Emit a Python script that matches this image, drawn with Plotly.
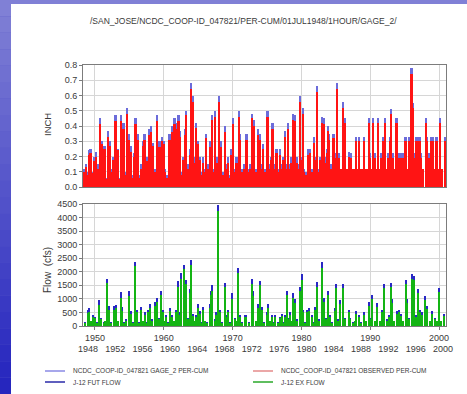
import plotly.graph_objects as go

# ---------------- DATA ----------------
precip_year = [
    1948.40, 1948.74, 1948.95, 1949.13, 1949.37, 1949.60, 1949.95, 1950.19, 1950.44, 1950.62,
    1950.78, 1951.07, 1951.25, 1951.41, 1951.65, 1951.89, 1952.14, 1952.40, 1952.62, 1952.85,
    1953.01, 1953.20, 1953.35, 1953.60, 1953.83, 1954.00, 1954.17, 1954.45, 1954.71, 1954.95,
    1955.19, 1955.45, 1955.70, 1955.92, 1956.10, 1956.26, 1956.50, 1956.75, 1956.99, 1957.23,
    1957.40, 1957.57, 1957.80, 1957.96, 1958.20, 1958.45, 1958.75, 1959.03, 1959.25, 1959.42,
    1959.62, 1959.81, 1960.00, 1960.25, 1960.50, 1960.87, 1961.05, 1961.26, 1961.60, 1961.84,
    1962.00, 1962.18, 1962.33, 1962.60, 1962.85, 1963.06, 1963.30, 1963.55, 1963.80, 1964.03,
    1964.27, 1964.45, 1964.66, 1964.85, 1965.00, 1965.24, 1965.50, 1965.73, 1965.95, 1966.21,
    1966.45, 1966.70, 1966.90, 1967.09, 1967.25, 1967.43, 1967.70, 1967.85, 1968.06, 1968.25,
    1968.40, 1968.65, 1968.88, 1969.10, 1969.37, 1969.60, 1969.85, 1970.10, 1970.35, 1970.60,
    1970.97, 1971.15, 1971.40, 1971.70, 1972.04, 1972.30, 1972.60, 1972.87, 1973.11, 1973.40,
    1973.75, 1973.99, 1974.20, 1974.48, 1974.75, 1975.11, 1975.35, 1975.60, 1975.84, 1976.10,
    1976.42, 1976.65, 1976.91, 1977.20, 1977.40, 1977.64, 1977.90, 1978.13, 1978.40, 1978.60,
    1978.86, 1979.10, 1979.35, 1979.60, 1979.83, 1980.05, 1980.22, 1980.45, 1980.70, 1981.05,
    1981.29, 1981.55, 1981.87, 1982.05, 1982.26, 1982.50, 1982.75, 1982.99, 1983.24, 1983.50,
    1983.70, 1983.87, 1984.06, 1984.30, 1984.50, 1984.70, 1984.95, 1985.18, 1985.45, 1985.75,
    1986.06, 1986.25, 1986.40, 1986.65, 1986.89, 1987.10, 1987.23, 1987.50, 1987.75, 1988.00,
    1988.20, 1988.35, 1988.65, 1988.85, 1989.08, 1989.35, 1989.60, 1989.81, 1990.05, 1990.25,
    1990.44, 1990.70, 1990.95, 1991.17, 1991.40, 1991.65, 1991.90, 1992.14, 1992.40, 1992.65,
    1992.85, 1993.07, 1993.30, 1993.55, 1993.84, 1994.10, 1994.43, 1994.70, 1994.95, 1995.16,
    1995.40, 1995.70, 1996.03, 1996.25, 1996.50, 1996.75, 1997.00, 1997.20, 1997.45, 1997.75,
    1998.08, 1998.30, 1998.55, 1998.80, 1999.15, 1999.40, 1999.65, 1999.90, 2000.17, 2000.45,
    2000.85,
]
gage2_inch = [
    .12, .15, .10, .24, .25, .10, .20, .23, .15, .08,
    .45, .30, .12, .27, .06, .37, .30, .12, .20, .10,
    .47, .12, .25, .06, .47, .15, .42, .10, .52, .35,
    .27, .08, .22, .45, .15, .35, .08, .15, .30, .35,
    .10, .20, .12, .38, .40, .29, .12, .47, .12, .30,
    .10, .33, .30, .12, .08, .35, .15, .40, .45, .42,
    .18, .47, .37, .10, .20, .38, .50, .15, .25, .68,
    .60, .20, .42, .15, .30, .20, .10, .20, .12, .35,
    .15, .30, .15, .47, .12, .50, .15, .20, .60, .15,
    .30, .10, .40, .15, .20, .08, .25, .45, .12, .20,
    .50, .35, .12, .15, .35, .12, .15, .48, .44, .12,
    .38, .35, .15, .28, .12, .50, .15, .20, .42, .15,
    .25, .12, .25, .15, .20, .37, .15, .42, .15, .20,
    .48, .47, .20, .15, .60, .20, .52, .12, .10, .25,
    .25, .12, .33, .20, .66, .12, .20, .46, .45, .20,
    .25, .40, .35, .15, .12, .35, .22, .68, .22, .12,
    .56, .22, .45, .12, .23, .12, .22, .12, .12, .33,
    .12, .33, .12, .12, .33, .12, .12, .45, .22, .12,
    .45, .22, .12, .45, .12, .22, .33, .45, .12, .22,
    .33, .51, .22, .12, .45, .22, .22, .22, .12, .33,
    .12, .33, .78, .55, .22, .33, .33, .33, .22, .12,
    .45, .33, .22, .33, .33, .12, .33, .12, .45, .12,
    .33,
]
observed_inch = [
    .10, .13, .08, .21, .22, .09, .17, .20, .12, .07,
    .41, .28, .10, .25, .05, .33, .27, .10, .18, .08,
    .43, .10, .24, .05, .43, .12, .38, .08, .48, .31,
    .23, .06, .20, .41, .12, .31, .06, .12, .27, .31,
    .08, .17, .10, .34, .36, .27, .10, .43, .10, .26,
    .08, .30, .28, .10, .06, .31, .12, .36, .41, .38,
    .15, .43, .33, .08, .18, .34, .47, .12, .21, .64,
    .56, .16, .39, .12, .28, .18, .08, .16, .10, .32,
    .12, .26, .13, .44, .10, .46, .13, .16, .56, .12,
    .26, .08, .36, .12, .16, .06, .21, .41, .10, .16,
    .46, .31, .10, .12, .31, .10, .12, .45, .40, .10,
    .34, .31, .12, .25, .10, .46, .12, .18, .38, .12,
    .22, .10, .21, .12, .18, .33, .12, .38, .12, .16,
    .44, .43, .16, .12, .56, .18, .48, .10, .08, .21,
    .22, .10, .29, .18, .62, .10, .18, .42, .41, .16,
    .22, .37, .31, .12, .10, .32, .19, .64, .19, .12,
    .52, .19, .42, .12, .20, .12, .19, .12, .12, .30,
    .12, .30, .12, .12, .30, .12, .12, .42, .19, .12,
    .42, .19, .12, .42, .12, .19, .30, .42, .12, .19,
    .30, .48, .19, .12, .42, .19, .19, .19, .12, .30,
    .12, .30, .74, .52, .19, .30, .30, .30, .19, .12,
    .42, .30, .19, .30, .30, .12, .30, .12, .42, .12,
    .30,
]

flow_year = [
    1948.60, 1948.98, 1949.22, 1949.45, 1949.71, 1950.05, 1950.35, 1950.68, 1950.92, 1951.30,
    1951.55, 1951.80, 1952.04, 1952.35, 1952.72, 1953.01, 1953.35, 1953.74, 1953.98, 1954.30,
    1954.60, 1954.90, 1955.19, 1955.50, 1955.83, 1956.12, 1956.45, 1956.75, 1957.00, 1957.23,
    1957.50, 1957.72, 1958.06, 1958.35, 1958.69, 1959.03, 1959.30, 1959.56, 1959.90, 1960.15,
    1960.39, 1960.65, 1960.87, 1961.26, 1961.55, 1961.84, 1962.09, 1962.35, 1962.57, 1962.91,
    1963.20, 1963.50, 1963.79, 1964.03, 1964.27, 1964.50, 1964.76, 1965.00, 1965.24, 1965.50,
    1965.73, 1966.00, 1966.35, 1966.70, 1966.94, 1967.09, 1967.40, 1967.65, 1967.91, 1968.16,
    1968.45, 1968.88, 1969.10, 1969.37, 1969.65, 1970.00, 1970.30, 1970.55, 1970.83, 1971.07,
    1971.40, 1971.80, 1972.04, 1972.35, 1972.77, 1973.02, 1973.35, 1973.75, 1973.99, 1974.23,
    1974.55, 1974.96, 1975.21, 1975.45, 1975.69, 1975.95, 1976.18, 1976.55, 1976.91, 1977.15,
    1977.40, 1977.64, 1977.98, 1978.20, 1978.37, 1978.60, 1978.86, 1979.10, 1979.45, 1979.83,
    1980.07, 1980.32, 1980.60, 1980.90, 1981.14, 1981.53, 1981.80, 1982.02, 1982.26, 1982.60,
    1982.99, 1983.24, 1983.55, 1983.87, 1984.21, 1984.50, 1984.84, 1985.09, 1985.40, 1985.67,
    1986.06, 1986.40, 1986.89, 1987.13, 1987.45, 1987.75, 1988.00, 1988.35, 1988.70, 1989.08,
    1989.40, 1989.81, 1990.05, 1990.29, 1990.65, 1991.02, 1991.40, 1991.75, 1992.09, 1992.45,
    1992.70, 1992.97, 1993.21, 1993.50, 1993.84, 1994.18, 1994.43, 1994.80, 1995.16, 1995.40,
    1995.70, 1996.13, 1996.37, 1996.65, 1996.96, 1997.25, 1997.59, 1997.98, 1998.32, 1998.65,
    1999.05, 1999.40, 1999.70, 2000.02, 2000.35, 2000.75,
]
fut_flow = [
    150, 600, 650, 200, 400, 350, 150, 950, 300, 150,
    200, 1750, 750, 150, 750, 780, 200, 1250, 700, 150,
    250, 1300, 550, 150, 2350, 600, 150, 700, 200, 500,
    150, 600, 800, 250, 900, 1050, 300, 1300, 600, 200,
    400, 150, 650, 400, 200, 600, 1650, 500, 1950, 2250,
    1700, 300, 1350, 2450, 450, 200, 400, 800, 550, 150,
    700, 200, 150, 800, 1300, 1500, 250, 500, 4480, 600,
    150, 1600, 400, 600, 150, 1200, 300, 200, 2150, 400,
    150, 400, 400, 150, 1750, 1300, 200, 800, 1650, 700,
    150, 500, 800, 200, 400, 150, 400, 150, 350, 450,
    150, 400, 1300, 300, 500, 200, 1200, 1000, 250, 1450,
    1900, 600, 150, 600, 650, 400, 150, 700, 1620, 250,
    2350, 1050, 300, 1300, 400, 150, 650, 1550, 250, 950,
    1550, 300, 600, 300, 150, 200, 550, 400, 150, 500,
    200, 900, 300, 1150, 200, 850, 200, 600, 1550, 250,
    400, 1600, 1000, 200, 550, 600, 450, 200, 1700, 1000,
    300, 1900, 1850, 400, 1350, 600, 500, 1100, 750, 200,
    550, 300, 200, 1400, 200, 450,
]
ex_flow = [
    120, 480, 520, 170, 330, 290, 120, 780, 250, 120,
    170, 1600, 600, 120, 600, 650, 170, 1050, 560, 120,
    200, 1100, 450, 120, 2200, 500, 120, 580, 170, 420,
    120, 500, 650, 200, 750, 880, 250, 1150, 500, 170,
    330, 120, 540, 330, 170, 500, 1450, 420, 1750, 2100,
    1550, 250, 1200, 2250, 380, 170, 330, 650, 460, 120,
    580, 170, 120, 650, 1150, 1300, 200, 420, 4250, 500,
    120, 1450, 330, 500, 120, 1000, 250, 170, 1950, 330,
    120, 330, 330, 120, 1550, 1100, 170, 650, 1500, 580,
    120, 420, 650, 170, 330, 120, 330, 120, 290, 380,
    120, 330, 1150, 250, 420, 170, 1050, 850, 200, 1300,
    1700, 500, 120, 500, 540, 330, 120, 580, 1450, 200,
    2150, 900, 250, 1150, 330, 120, 540, 1400, 200, 800,
    1400, 250, 500, 250, 120, 170, 460, 330, 120, 420,
    170, 750, 250, 1000, 170, 700, 170, 500, 1400, 200,
    330, 1450, 850, 170, 460, 500, 380, 170, 1550, 850,
    250, 1750, 1700, 330, 1200, 500, 420, 950, 620, 170,
    460, 250, 170, 1250, 170, 380,
]

decade_ticks = [1950, 1960, 1970, 1980, 1990, 2000]
quad_ticks = [1948, 1952, 1956, 1960, 1964, 1968, 1972, 1976, 1980, 1984, 1988, 1992, 1996, 2000]
inch_ticks = [0.0, 0.1, 0.2, 0.3, 0.4, 0.5, 0.6, 0.7, 0.8]
flow_ticks = [0, 500, 1000, 1500, 2000, 2500, 3000, 3500, 4000, 4500]

title_text = "/SAN_JOSE/NCDC_COOP-ID_047821/PER-CUM/01JUL1948/1HOUR/GAGE_2/"
legend_names = [
    "NCDC_COOP-ID_047821 GAGE_2 PER-CUM",
    "NCDC_COOP-ID_047821 OBSERVED PER-CUM",
    "J-12 FUT FLOW",
    "J-12 EX FLOW",
]

# ---------------- LAYOUT HELPERS ----------------
W, H = 467, 394
def fx(px):
    return px / W
def fy(py):
    return 1 - py / H

FONT = "Liberation Sans, Arial, sans-serif"
TXT = "#3a3a3a"
GRID = "#d6d6d6"
FRAME = "#7c7c7c"

fig = go.Figure()
BW_TOP = 0.25
BW_BOT = 0.2
fig.add_trace(go.Bar(x=precip_year, y=gage2_inch, width=BW_TOP, name=legend_names[0],
                     marker=dict(color="#6c6cda", line_width=0), xaxis="x", yaxis="y"))
fig.add_trace(go.Bar(x=precip_year, y=observed_inch, width=BW_TOP, name=legend_names[1],
                     marker=dict(color="#ff1414", line_width=0), xaxis="x", yaxis="y"))
fig.add_trace(go.Bar(x=flow_year, y=fut_flow, width=BW_BOT, name=legend_names[2],
                     marker=dict(color="#2828c4", line_width=0), xaxis="x2", yaxis="y2"))
fig.add_trace(go.Bar(x=flow_year, y=ex_flow, width=BW_BOT, name=legend_names[3],
                     marker=dict(color="#14b414", line_width=0), xaxis="x2", yaxis="y2"))
fig.add_trace(go.Scatter(x=[quad_ticks[0]], y=[None], xaxis="x3", yaxis="y2",
                         mode="markers", showlegend=False, hoverinfo="skip"))

dom_x = [fx(83), fx(446)]
axis_common = dict(showline=True, mirror=True, linecolor=FRAME, linewidth=1,
                   gridcolor=GRID, gridwidth=1, zeroline=False, automargin=False,
                   tickfont=dict(family=FONT, size=9, color=TXT))

fig.update_layout(
    width=W, height=H, autosize=False,
    margin=dict(l=0, r=0, t=0, b=0, pad=0, autoexpand=False),
    paper_bgcolor="#5a5ac8", plot_bgcolor="white",
    barmode="overlay", bargap=0, showlegend=False,
    font=dict(family=FONT, size=9, color=TXT),
    xaxis=dict(domain=dom_x, anchor="y", range=[1948.26, 2001.0], tickvals=decade_ticks,
               showticklabels=False, ticks="", **axis_common),
    yaxis=dict(domain=[fy(187), fy(65)], anchor="x", range=[0, 0.8], tickvals=inch_ticks,
               tickformat=".1f", ticks="outside", ticklen=3, tickcolor=FRAME, **axis_common),
    xaxis2=dict(domain=dom_x, anchor="y2", range=[1948.26, 2001.0], tickvals=decade_ticks,
                ticks="outside", ticklen=3, tickcolor=FRAME, **axis_common),
    yaxis2=dict(domain=[fy(326), fy(204)], anchor="x2", range=[0, 4500], tickvals=flow_ticks,
                ticks="outside", ticklen=3, tickcolor=FRAME, **axis_common),
    xaxis3=dict(overlaying="x2", anchor="free", position=fy(342), range=[1947.27, 2000.44],
                tickvals=quad_ticks, showgrid=False, showline=False, zeroline=False, ticks="",
                automargin=False, tickfont=dict(family=FONT, size=9, color=TXT)),
)

shapes = []
# slide background gradient (left and top strips)
n = 24
for i in range(n):
    t = i / (n - 1)
    r = int(128 - t * (128 - 38))
    g = int(128 - t * (128 - 38))
    b = int(214 - t * (214 - 190))
    shapes.append(dict(type="rect", xref="paper", yref="paper", layer="below",
                       x0=0, x1=1, y0=1 - (i + 1) / n, y1=1 - i / n,
                       fillcolor=f"rgb({r},{g},{b})", line_width=0))
shapes.append(dict(type="rect", xref="paper", yref="paper", layer="below",
                   x0=fx(11), x1=1, y0=0, y1=fy(4), fillcolor="white", line_width=0))

# legend samples
leg_pos = [(45, 371), (253, 371), (45, 382), (253, 382)]
leg_cols = ["#8a8ae4", "#e48a8a", "#2a2aa8", "#2aa82a"]
annotations = []
for (lx, ly), col, name in zip(leg_pos, leg_cols, legend_names):
    shapes.append(dict(type="line", xref="paper", yref="paper",
                       x0=fx(lx), x1=fx(lx + 20), y0=fy(ly), y1=fy(ly),
                       line=dict(color=col, width=1.5)))
    annotations.append(dict(xref="paper", yref="paper", x=fx(lx + 26), y=fy(ly),
                            xanchor="left", yanchor="middle", text=name, showarrow=False,
                            font=dict(family=FONT, size=6.5, color=TXT)))

annotations.append(dict(xref="paper", yref="paper", x=fx(243), y=fy(21), text=title_text,
                        showarrow=False, xanchor="center", yanchor="middle",
                        font=dict(family=FONT, size=8.5, color=TXT)))
annotations.append(dict(xref="paper", yref="paper", x=fx(47), y=fy(125), text="INCH",
                        showarrow=False, textangle=-90, xanchor="center", yanchor="middle",
                        font=dict(family=FONT, size=9.5, color=TXT)))
annotations.append(dict(xref="paper", yref="paper", x=fx(47), y=fy(270), text="Flow  (cfs)",
                        showarrow=False, textangle=-90, xanchor="center", yanchor="middle",
                        font=dict(family=FONT, size=10, color=TXT)))

fig.update_layout(shapes=shapes, annotations=annotations)
fig.write_html(
    "out.html",
    config={"displayModeBar": False, "responsive": False},
    post_script=("document.body.style.margin='0px';"
                 "document.documentElement.style.overflow='hidden';"
                 "document.body.style.overflow='hidden';"),
)
